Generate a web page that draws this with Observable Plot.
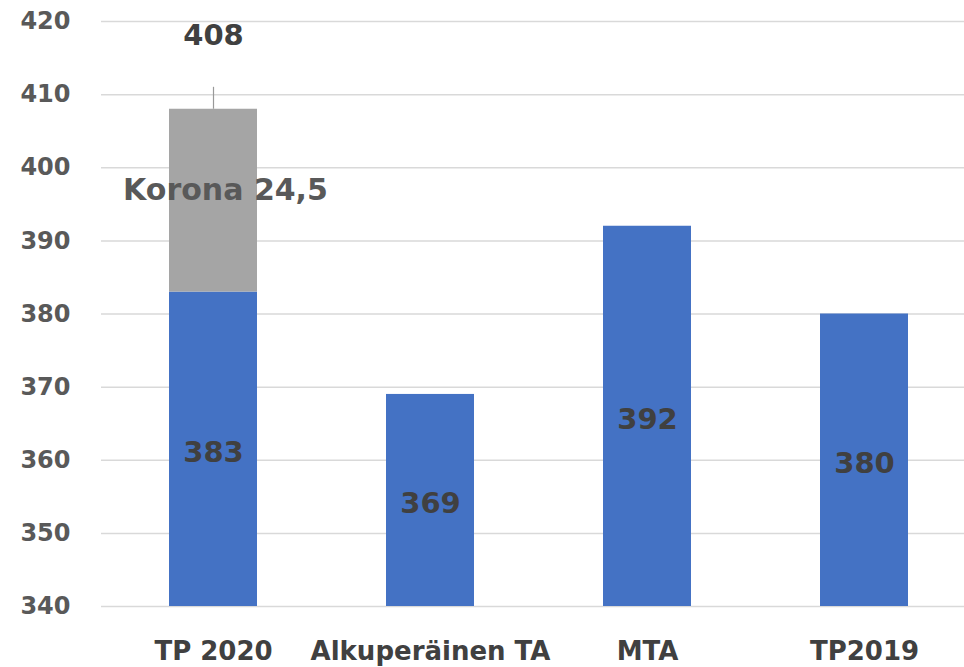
<!DOCTYPE html>
<html>
<head>
<meta charset="utf-8">
<script src="https://cdn.jsdelivr.net/npm/d3@7"></script>
<script src="https://cdn.jsdelivr.net/npm/@observablehq/plot@0.6"></script>
<style>
  html, body { margin: 0; padding: 0; background: #fff; }
  #chart svg { display: block; }
</style>
</head>
<body>
<div id="chart"></div>
<script>
const categories = ["TP 2020", "Alkuperäinen TA", "MTA", "TP2019"];
const baseValues = [383, 369, 392, 380];
const baseLabels = ["383", "369", "392", "380"];
const coronaCategory = "TP 2020";
const coronaAmount = 24.5;
const coronaLabel = "Korona 24,5";
const totalValue = 408;
const totalLabel = "408";
const errorTop = 411;
const yTicks = [340, 350, 360, 370, 380, 390, 400, 410, 420];
const yMin = 340;

const rows = categories.map((c, i) => ({cat: c, value: baseValues[i], label: baseLabels[i]}));
const coronaRow = [{cat: coronaCategory, y1: baseValues[0], y2: totalValue, mid: (baseValues[0] + totalValue) / 2, label: coronaLabel, total: totalValue, top: errorTop}];

const chart = Plot.plot({
  width: 964,
  height: 667,
  marginTop: 21,
  marginBottom: 61,
  marginLeft: 101,
  marginRight: 0,
  style: {fontFamily: "'DejaVu Sans', sans-serif", background: "#fff"},
  x: {domain: categories, range: [104, 972], paddingInner: 0.595, paddingOuter: 0.2975, label: null},
  y: {domain: [340, 420], label: null},
  marks: [
    Plot.ruleY(yTicks, {stroke: "#d9d9d9", strokeWidth: 1.5}),
    Plot.barY(rows, {x: "cat", y1: yMin, y2: "value", fill: "#4472c4"}),
    Plot.barY(coronaRow, {x: "cat", y1: "y1", y2: "y2", fill: "#a5a5a5"}),
    Plot.ruleX(coronaRow, {x: "cat", y1: "total", y2: "top", stroke: "#999", strokeWidth: 1.2}),
    Plot.text(rows, {x: "cat", y: d => (yMin + d.value) / 2, text: "label", fill: "#404040", fontSize: 29, fontWeight: "bold", lineAnchor: "middle", dy: 3}),
    Plot.text(coronaRow, {x: "cat", y: "mid", text: "label", fill: "#595959", fontSize: 30, fontWeight: "bold", lineAnchor: "middle", dx: 12, dy: -10}),
    Plot.text(coronaRow, {x: "cat", frameAnchor: "top", text: () => totalLabel, fill: "#404040", fontSize: 29, fontWeight: "bold", lineAnchor: "middle", dy: 14}),
    Plot.axisY({ticks: yTicks, tickSize: 0, tickPadding: 31, fontSize: 24, fontWeight: "bold", color: "#595959", label: null}),
    Plot.axisX({tickSize: 0, tickPadding: 35, fontSize: 26, fontWeight: "bold", color: "#404040", label: null})
  ]
});
document.getElementById("chart").appendChild(chart);
</script>
</body>
</html>
